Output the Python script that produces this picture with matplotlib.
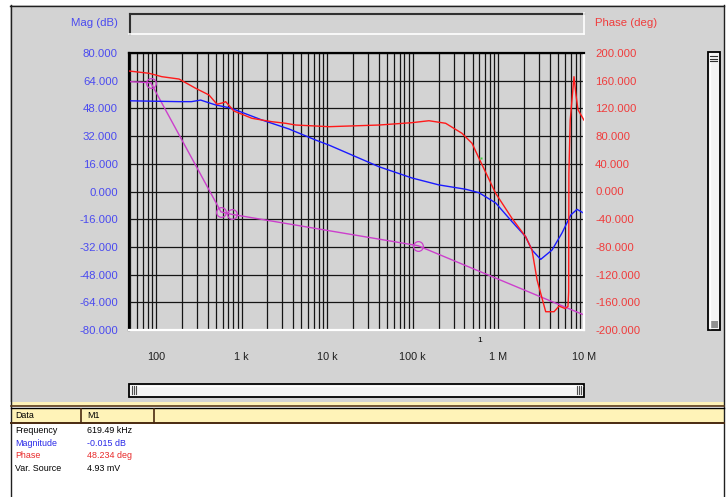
import matplotlib
matplotlib.use('Agg')
import matplotlib.pyplot as plt
from matplotlib.patches import Rectangle
from matplotlib.ticker import FixedLocator, FixedFormatter, LogLocator, NullFormatter

plt.rcParams['font.family'] = ['Liberation Sans', 'DejaVu Sans']

# magnitude trace (blue)
freq_mag = [48.4, 186, 260, 333, 400, 498, 713, 853, 1730, 3580, 7350, 10500,
            40300, 97900, 202000, 415000, 593000, 929000, 1.44e6, 2.08e6,
            2.47e6, 3.12e6, 4.23e6, 5.53e6, 7.0e6, 8.29e6, 1e7]
mag_db = [52.4, 51.9, 51.9, 52.8, 51.5, 50.0, 48.4, 47.1, 41.3, 36.1, 29.7, 26.8,
          14.3, 7.8, 3.8, 1.3, -0.7, -6.6, -17.4, -26.1,
          -33.8, -39.2, -33.8, -24.0, -13.6, -10.3, -12.6]

# phase trace (red)
freq_ph = [48.4, 83, 117, 186, 291, 416, 516, 600, 652, 815, 1320, 2260, 3270,
           4290, 10500, 40300, 97900, 154500, 242000, 376000, 492000, 593000,
           929000, 1.44e6, 2.08e6, 2.47e6, 2.83e6, 3.57e6, 4.47e6, 5.11e6,
           6.0e6, 6.5e6, 6.62e6, 6.66e6, 6.9e6, 7.64e6, 8.07e6, 8.51e6, 1e7]
phase_deg = [174, 170.7, 165.8, 162.4, 149, 139.4, 126, 128, 129.7, 116.2, 105.7,
             100.8, 98.5, 96, 93.6, 96, 99.4, 102.2, 98.5, 84, 69.6, 48,
             -2.6, -38.7, -65.3, -84.5, -127.8, -173.6, -173.6, -165.4,
             -169, -166, -145, 26, 103, 165.8, 139, 118, 103]

# asymptote (magenta) with markers on break points
freq_asym = [48.4, 87, 575, 771, 115000, 1e7]
asym_db = [63.5, 62.8, -11.8, -13.2, -31.3, -71.3]

x_ticks = [1e2, 1e3, 1e4, 1e5, 1e6, 1e7]
x_labels = ['100', '1 k', '10 k', '100 k', '1 M', '10 M']
mag_ticks = [-80, -64, -48, -32, -16, 0, 16, 32, 48, 64, 80]
phase_ticks = [-200, -160, -120, -80, -40, 0, 40, 80, 120, 160, 200]

table_names = ['Frequency', 'Magnitude', 'Phase', 'Var. Source']
table_values = ['619.49 kHz', '-0.015 dB', '48.234 deg', '4.93 mV']
table_colors = ['black', '#2828e8', '#e82828', 'black']

cursor_freq = 619490
cursor_phase = 48.234

GRAY = '#d3d3d3'
BLUE_TXT = '#4a4af0'
RED_TXT = '#f03c3c'
AX_FS = 8.2
TAB_FS = 6.4

W, H = 728, 497
fig = plt.figure(figsize=(W / 100, H / 100), dpi=100, facecolor='white')

# panel chrome drawn in pixel coordinates
bg = fig.add_axes([0, 0, 1, 1])
bg.set_xlim(0, W)
bg.set_ylim(H, 0)
bg.axis('off')
bg.set_zorder(0)

bg.add_patch(Rectangle((10, 5), 714, 397, fc=GRAY, ec='none'))
bg.plot([10.5, 10.5], [5, H], color='#202020', lw=1)
bg.plot([724, 724], [5, H], color='#202020', lw=1)
bg.plot([10, 724], [5.5, 5.5], color='#202020', lw=1)

# title box (sunken)
bg.add_patch(Rectangle((129, 13), 455, 21, fc=GRAY, ec='none'))
bg.plot([130, 584], [13.5, 13.5], color='#303030', lw=1.5)
bg.plot([129.5, 129.5], [14, 34], color='#303030', lw=1.5)
bg.plot([129, 584], [34, 34], color='white', lw=1.2)
bg.plot([584, 584], [13, 34], color='white', lw=1.2)
bg.text(118, 23.5, 'Mag (dB)', color=BLUE_TXT, fontsize=AX_FS, ha='right', va='center')
bg.text(595, 23.5, 'Phase (deg)', color=RED_TXT, fontsize=AX_FS, ha='left', va='center')

# right scrollbar
bg.add_patch(Rectangle((707.5, 52), 12, 278, fc='#f4f4f4', ec='black', lw=1.3))
bg.plot([710, 710], [54, 328], color='white', lw=1)
for yy in (56, 58.5, 61):
    bg.plot([710, 717], [yy, yy], color='#303030', lw=0.8)
bg.add_patch(Rectangle((709.5, 321), 8, 7, fc='#909090', ec='none'))

# bottom scrollbar
bg.add_patch(Rectangle((129, 383.5), 455, 13, fc='#f4f4f4', ec='black', lw=1.3))
bg.plot([131, 582], [386, 386], color='white', lw=1)
for xx in (132, 134, 136):
    bg.plot([xx, xx], [386, 394], color='#505050', lw=0.8)
for xx in (577, 579, 581):
    bg.plot([xx, xx], [386, 394], color='#505050', lw=0.8)

# data table header
bg.add_patch(Rectangle((11, 402), 713, 3.5, fc='#fff3b8', ec='none'))
bg.plot([11, 724], [405.5, 405.5], color='#5a3a1a', lw=1.2)
bg.add_patch(Rectangle((11, 408.5), 713, 14, fc='#fff3b8', ec='none'))
bg.plot([11, 724], [408.2, 408.2], color='black', lw=1)
bg.plot([11, 724], [423, 423], color='#4a2a10', lw=1.4)
for xx in (81, 153.5):
    bg.plot([xx, xx], [408.5, 423], color='#4a2a10', lw=1.2)
bg.text(15, 416, 'Data', fontsize=TAB_FS, ha='left', va='center')
bg.text(87, 416, 'M1', fontsize=TAB_FS, ha='left', va='center')
for i, (name, val, col) in enumerate(zip(table_names, table_values, table_colors)):
    yy = 430.5 + i * 12.7
    bg.text(15, yy, name, color=col, fontsize=TAB_FS, ha='left', va='center')
    bg.text(87, yy, val, color=col, fontsize=TAB_FS, ha='left', va='center')

bg.text(480, 340, '1', fontsize=6, ha='center', va='center')

# plot area
ax = fig.add_axes([129 / W, 1 - 330 / H, 455 / W, 277 / H])
ax.set_zorder(1)
ax.set_facecolor(GRAY)
ax.set_xscale('log')
ax.set_xlim(48.4, 1e7)
ax.set_ylim(-80, 80)

ax.xaxis.set_major_locator(FixedLocator(x_ticks))
ax.xaxis.set_major_formatter(FixedFormatter(x_labels))
ax.xaxis.set_minor_locator(LogLocator(base=10, subs=range(2, 10), numticks=20))
ax.xaxis.set_minor_formatter(NullFormatter())
ax.set_yticks(mag_ticks)
ax.set_yticklabels(['%.3f' % v for v in mag_ticks])

ax.grid(True, which='both', axis='x', color='#151515', lw=0.9)
ax.grid(True, which='major', axis='y', color='#151515', lw=0.9)
ax.tick_params(axis='both', which='both', length=0)
ax.tick_params(axis='y', pad=8, labelsize=AX_FS, labelcolor=BLUE_TXT)
ax.tick_params(axis='x', pad=15.5, labelsize=7.8, labelcolor='#202020')

for side in ('top', 'left'):
    ax.spines[side].set_color('black')
    ax.spines[side].set_linewidth(1.6)
for side in ('bottom', 'right'):
    ax.spines[side].set_color('white')
    ax.spines[side].set_linewidth(1.6)

ax.plot(freq_asym, asym_db, color='#cc3fcc', lw=1.0)
ax.plot(freq_asym[1:5], asym_db[1:5], ls='none', marker='o', ms=7,
        mfc='none', mec='#cc3fcc', mew=0.9)
ax.plot(freq_mag, mag_db, color='#1a1aff', lw=1.0)

ax2 = ax.twinx()
ax2.set_zorder(2)
ax2.patch.set_visible(False)
ax2.set_ylim(-200, 200)
ax2.set_yticks(phase_ticks)
ax2.set_yticklabels(['%.3f' % v for v in phase_ticks])
ax2.tick_params(axis='y', length=0, pad=8, labelsize=AX_FS, labelcolor=RED_TXT)
for s in ax2.spines.values():
    s.set_visible(False)
ax2.plot(freq_ph, phase_deg, color='#ff1a1a', lw=1.0)
ax2.plot([cursor_freq], [cursor_phase], ls='none', marker='s', ms=2,
         mfc='#40d040', mec='none')

fig.savefig('out.png', dpi=100, facecolor='white')
